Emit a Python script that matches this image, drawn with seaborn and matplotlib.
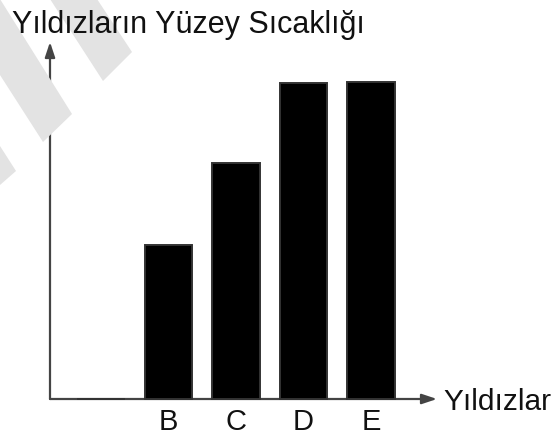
import matplotlib
matplotlib.use("Agg")
import matplotlib.pyplot as plt
import seaborn as sns
import pandas as pd
from matplotlib.patches import Polygon

# veri (yildizlar ve yuzey sicakliklari, keyfi birim)
stars = ["A", "B", "C", "D", "E"]
temps = [0, 154, 236, 316, 317]
tick_labels = ["", "B", "C", "D", "E"]

df = pd.DataFrame({"star": stars, "temp": temps})

sns.set_style("white")
plt.rcParams["font.family"] = ["Liberation Sans", "DejaVu Sans"]

W, H = 560, 439
fig = plt.figure(figsize=(W / 100, H / 100), dpi=100)

# soluk filigran seritleri (piksel koordinatlari)
def px(pts):
    return [(x / W, 1 - y / H) for x, y in pts]

for pts in [
    [(50, 0), (97, 0), (132, 53), (103, 82)],
    [(0, 0), (72, 115), (43, 143), (0, 76)],
    [(0, 147), (16, 172), (0, 186)],
]:
    fig.patches.append(Polygon(px(pts), closed=True, transform=fig.transFigure,
                               facecolor="#e3e3e3", edgecolor="none", zorder=0))

# eksen: sol kenar x=50px, taban y=400px, ust y=43px, sag x=437px
ax = fig.add_axes([50 / W, (H - 400) / H, (437 - 50) / W, (400 - 43) / H])
ax.patch.set_alpha(0)

sns.barplot(data=df, x="star", y="temp", order=stars, color="black",
            width=0.7, edgecolor="#333333", linewidth=1.4, saturation=1, ax=ax)
for p in ax.patches:
    p.set_zorder(5)
    p.set_clip_on(False)

ax.set_xlim((50 - 101) / 67.5, (437 - 101) / 67.5)
ax.set_ylim(0, 357)
ax.set_xticks(range(len(stars)))
ax.set_xticklabels(tick_labels, fontsize=21, color="#111111")
ax.tick_params(axis="x", length=0, pad=6)
ax.set_yticks([])
ax.set_xlabel("")
ax.set_ylabel("")
for s in ax.spines.values():
    s.set_visible(False)

# oklu eksenler
arrow = dict(arrowstyle="-|>,head_length=0.9,head_width=0.3", color="#444444",
             lw=1.6, shrinkA=0, shrinkB=0)
ax.annotate("", xy=(0, 1), xytext=(0, 0), xycoords="axes fraction",
            textcoords="axes fraction", arrowprops=arrow, annotation_clip=False)
ax.annotate("", xy=(1, 0), xytext=(0, 0), xycoords="axes fraction",
            textcoords="axes fraction", arrowprops=arrow, annotation_clip=False)

fig.text(12 / W, 1 - 33 / H, "Yıldızların Yüzey Sıcaklığı", fontsize=22,
         color="#111111", va="baseline", ha="left")
fig.text(443 / W, 1 - 402 / H, "Yıldızlar", fontsize=21.5, color="#111111",
         va="center", ha="left")

fig.savefig("out.png", dpi=100)
